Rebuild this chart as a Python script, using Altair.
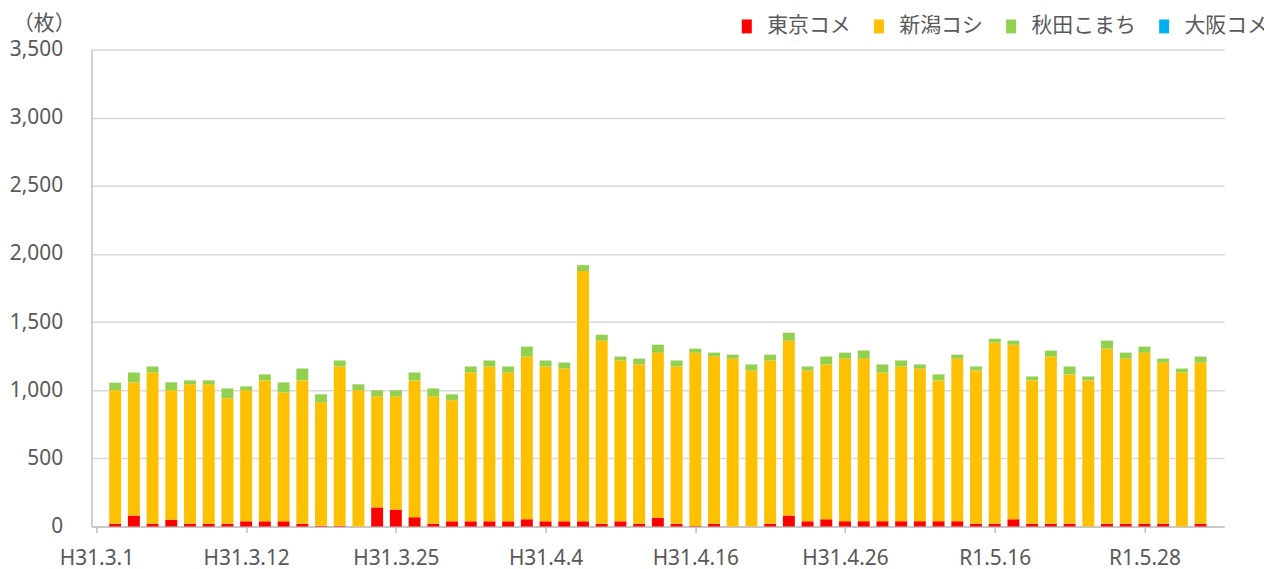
import altair as alt
import pandas as pd

# Business days (bar categories)
dates = [
    "H31.3.1", "H31.3.4", "H31.3.5", "H31.3.6", "H31.3.7", "H31.3.8", "H31.3.11", "H31.3.12",
    "H31.3.13", "H31.3.14", "H31.3.15", "H31.3.18", "H31.3.19", "H31.3.20", "H31.3.22", "H31.3.25",
    "H31.3.26", "H31.3.27", "H31.3.28", "H31.3.29", "H31.4.1", "H31.4.2", "H31.4.3", "H31.4.4",
    "H31.4.5", "H31.4.8", "H31.4.9", "H31.4.10", "H31.4.11", "H31.4.12", "H31.4.15", "H31.4.16",
    "H31.4.17", "H31.4.18", "H31.4.19", "H31.4.22", "H31.4.23", "H31.4.24", "H31.4.25", "H31.4.26",
    "R1.5.7", "R1.5.8", "R1.5.9", "R1.5.10", "R1.5.13", "R1.5.14", "R1.5.15", "R1.5.16",
    "R1.5.17", "R1.5.20", "R1.5.21", "R1.5.22", "R1.5.23", "R1.5.24", "R1.5.27", "R1.5.28",
    "R1.5.29", "R1.5.30", "R1.5.31",
]

tokyo = [20, 80, 20, 50, 20, 20, 20, 38, 38, 38, 20, 5, 5, 0, 140, 124, 68, 20, 38, 38,
         38, 38, 53, 38, 38, 38, 20, 38, 20, 65, 20, 3, 20, 0, 0, 20, 80, 38, 53, 39,
         39, 39, 39, 39, 39, 39, 20, 20, 53, 20, 20, 20, 0, 20, 20, 20, 20, 0, 20]
niigata = [980, 977, 1110, 950, 1023, 1023, 921, 961, 1034, 946, 1052, 906, 1169, 999, 815, 831, 1004, 935, 888, 1092,
           1136, 1092, 1194, 1136, 1121, 1836, 1344, 1180, 1169, 1211, 1154, 1273, 1227, 1232, 1145, 1198, 1284, 1107, 1136, 1193,
           1193, 1091, 1135, 1120, 1033, 1193, 1125, 1329, 1281, 1052, 1227, 1096, 1072, 1285, 1212, 1256, 1183, 1130, 1183]
akita = [55, 73, 44, 58, 29, 29, 72, 29, 44, 73, 87, 59, 44, 44, 44, 44, 58, 58, 44, 44,
         44, 44, 73, 44, 44, 44, 43, 29, 43, 58, 44, 29, 29, 29, 44, 43, 58, 29, 58, 44,
         59, 59, 44, 30, 44, 29, 29, 29, 30, 29, 44, 58, 29, 59, 44, 44, 29, 29, 44]
osaka = [0, 0, 0, 0, 0, 0, 0, 0, 0, 0, 0, 0, 0, 0, 0, 0, 0, 0, 0, 0,
         0, 0, 0, 0, 0, 0, 0, 0, 0, 0, 0, 0, 0, 0, 0, 0, 0, 0, 0, 0,
         0, 0, 0, 0, 0, 0, 0, 0, 0, 0, 0, 0, 0, 0, 0, 0, 0, 0, 0]

series_names = ["東京コメ", "新潟コシ", "秋田こまち", "大阪コメ"]
series_colors = ["#FF0000", "#FFC000", "#92D050", "#00B0F0"]

tick_pos = [0, 8, 16, 24, 32, 40, 48, 56]
tick_labels = ["H31.3.1", "H31.3.12", "H31.3.25", "H31.4.4", "H31.4.16", "H31.4.26", "R1.5.16", "R1.5.28"]
y_ticks = [0, 500, 1000, 1500, 2000, 2500, 3000, 3500]

rows = []
for k, (name, vals) in enumerate(zip(series_names, [tokyo, niigata, akita, osaka])):
    for i, (d, v) in enumerate(zip(dates, vals)):
        rows.append({"idx": i + 1, "date": d, "series": name, "k": k, "value": v})
df = pd.DataFrame(rows)

label_expr = ("[" + ",".join(f"'{l}'" for l in tick_labels) + "][indexof(["
              + ",".join(str(p) for p in tick_pos) + "], datum.value)]")

TXT = "#595959"
GRID = "#d9d9d9"

chart = alt.Chart(df).mark_bar(size=12).encode(
    x=alt.X(
        "idx:Q",
        scale=alt.Scale(domain=[0, 60], nice=False, zero=False),
        axis=alt.Axis(
            values=tick_pos, labelExpr=label_expr, title=None, grid=False,
            domainColor="#bfbfbf", domainWidth=1.5, tickColor="#bfbfbf", tickWidth=1.5,
            tickSize=6, labelFont="Noto Sans", labelFontSize=21, labelColor=TXT,
            labelPadding=15, labelFlush=False, labelOverlap=False,
        ),
    ),
    y=alt.Y(
        "value:Q", stack="zero",
        scale=alt.Scale(domain=[0, 3500], nice=False),
        axis=alt.Axis(
            values=y_ticks, format=",d", title="（枚）", titleAngle=0,
            titleX=-48, titleY=-26, titleAlign="center", titleBaseline="middle",
            titleFont="Noto Sans CJK JP", titleFontSize=21, titleFontWeight="normal",
            titleColor=TXT, ticks=False, tickSize=0, labelPadding=29,
            gridColor=GRID, gridWidth=1.5, domainColor="#bfbfbf", domainWidth=1.5,
            labelFont="Noto Sans", labelFontSize=21, labelColor=TXT,
        ),
    ),
    color=alt.Color(
        "series:N",
        scale=alt.Scale(domain=series_names, range=series_colors),
        legend=alt.Legend(
            title=None, orient="none", legendX=649, legendY=-34, direction="horizontal",
            symbolType="M-0.72,-1H0.72V1H-0.72Z", symbolSize=196, symbolStrokeWidth=0,
            labelFont="Noto Sans CJK JP", labelFontSize=21, labelColor=TXT,
            labelOffset=10, columnPadding=18, padding=0,
        ),
    ),
    order=alt.Order("k:Q", sort="ascending"),
).properties(
    width=1140, height=480,
    autosize=alt.AutoSizeParams(type="none"),
    padding={"left": 84, "top": 40, "right": 40, "bottom": 41},
).configure_view(stroke=None)

chart.save("out.html", embed_options={"renderer": "svg", "actions": False})
